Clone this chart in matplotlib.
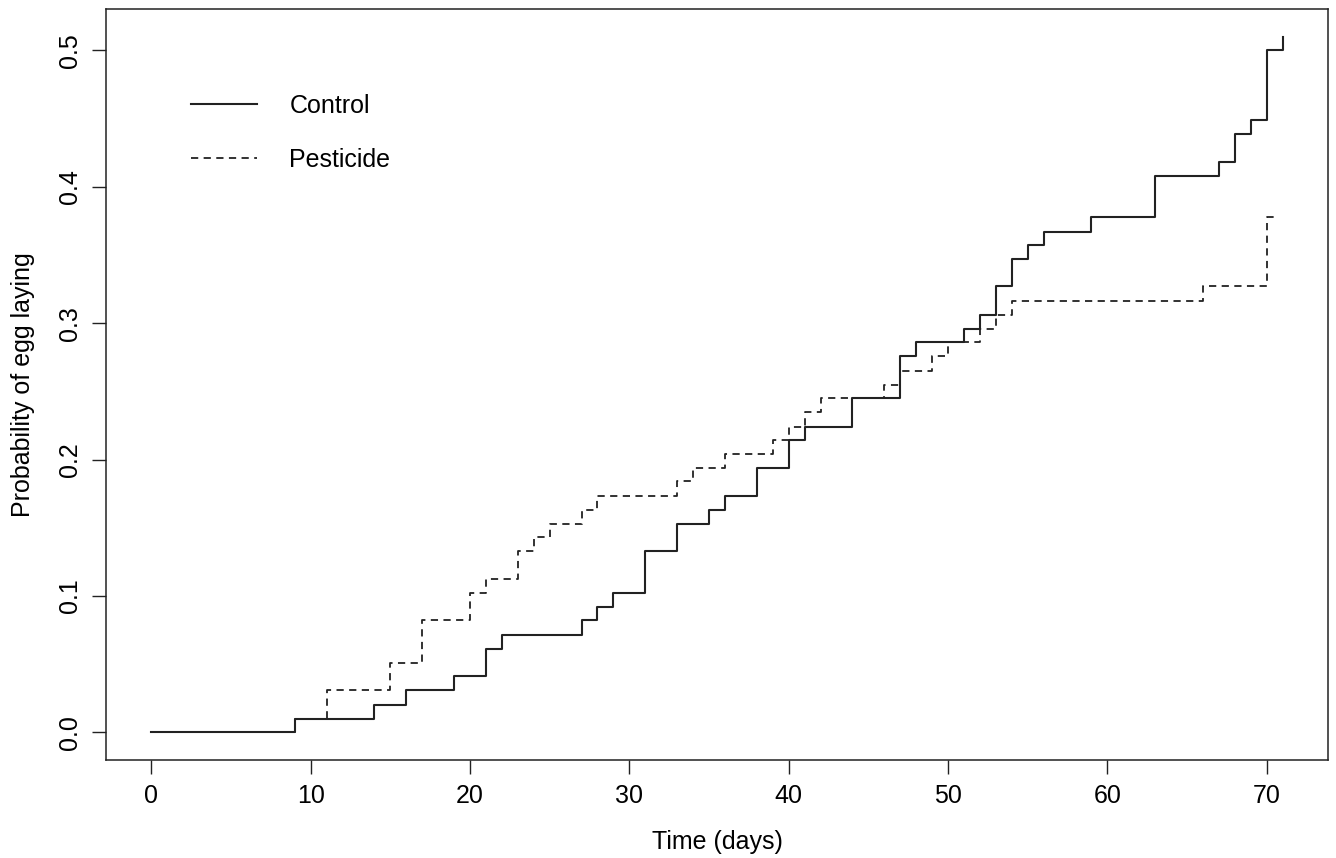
import matplotlib
matplotlib.use("Agg")
import matplotlib.pyplot as plt

plt.rcParams['font.family'] = ['Liberation Sans', 'DejaVu Sans']

# step data (time in days, cumulative probability)
control_time = [0, 9, 14, 16, 19, 21, 22, 27, 28, 29, 31, 33, 35, 36, 38, 40, 41,
                44, 47, 48, 51, 52, 53, 54, 55, 56, 59, 63, 67, 68, 69, 70, 71]
control_prob = [0.0, 0.010, 0.020, 0.031, 0.041, 0.061, 0.071, 0.082, 0.092, 0.102,
                0.133, 0.153, 0.163, 0.173, 0.194, 0.214, 0.224, 0.245, 0.276, 0.286,
                0.296, 0.306, 0.327, 0.347, 0.357, 0.367, 0.378, 0.408, 0.418, 0.439,
                0.449, 0.500, 0.510]

pest_time = [0, 9, 11, 15, 17, 20, 21, 23, 24, 25, 27, 28, 33, 34, 36, 39, 40, 41, 42,
             46, 47, 49, 50, 52, 53, 54, 66, 70, 70.7]
pest_prob = [0.0, 0.010, 0.031, 0.051, 0.082, 0.102, 0.112, 0.133, 0.143, 0.153, 0.163,
             0.173, 0.184, 0.194, 0.204, 0.214, 0.224, 0.235, 0.245, 0.255, 0.265,
             0.276, 0.286, 0.296, 0.306, 0.316, 0.327, 0.378, 0.378]

x_ticks = [0, 10, 20, 30, 40, 50, 60, 70]
y_ticks = [0.0, 0.1, 0.2, 0.3, 0.4, 0.5]

fig = plt.figure(figsize=(13.36, 8.58), dpi=100)
ax = fig.add_axes([0.0793, 0.1142, 0.9147, 0.8753])

ax.step(control_time, control_prob, where='post', color='#222222', lw=1.5,
        label='Control')
ax.step(pest_time, pest_prob, where='post', color='#222222', lw=1.3,
        ls=(0, (4, 3)), label='Pesticide')

# R style: 4% padding around data range
xr = 71 * 0.04
yr = 0.51 * 0.04
ax.set_xlim(0 - xr, 71 + xr)
ax.set_ylim(0 - yr, 0.51 + yr)

ax.set_xticks(x_ticks)
ax.set_xticklabels([str(t) for t in x_ticks])
ax.set_yticks(y_ticks)
ax.set_yticklabels(['%.1f' % t for t in y_ticks], rotation=90, va='center')
ax.tick_params(axis='both', direction='out', length=10, width=1.0,
               labelsize=18, color='#222222')
ax.tick_params(axis='x', pad=7)
ax.tick_params(axis='y', pad=7)
for s in ax.spines.values():
    s.set_linewidth(1.1)
    s.set_color('#222222')

ax.set_xlabel('Time (days)', fontsize=18, labelpad=16)
ax.set_ylabel('Probability of egg laying', fontsize=18, labelpad=17)

ax.legend(loc='upper left', bbox_to_anchor=(0.0696, 0.887), frameon=False,
          fontsize=18, handlelength=2.64, handletextpad=1.3, labelspacing=1.2,
          borderpad=0, borderaxespad=0)

fig.savefig('out.png', dpi=100)
